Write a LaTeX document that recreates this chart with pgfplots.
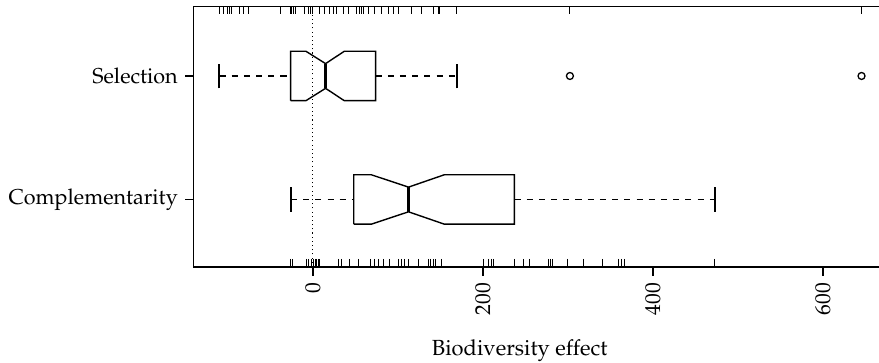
\documentclass[border=0pt,12pt]{standalone}
\usepackage[T1]{fontenc}
\usepackage{mathpazo}
\usepackage{pgfplots}
\pgfplotsset{compat=1.18}
\begin{document}
\begin{tikzpicture}
\useasboundingbox (-111.1bp,-55bp) rectangle (392.9bp,153.1bp);
\begin{axis}[
  at={(0,0)}, anchor=south west,
  scale only axis, width=397.6bp, height=149.4bp,
  xmin=-140.2, xmax=675.7, ymin=0.453, ymax=2.563,
  axis line style={line width=0.75bp},
  xtick={0,200,400,600}, ytick={1,2},
  yticklabels={Complementarity,Selection},
  xtick pos=bottom, ytick pos=left,
  tick align=outside, major tick length=5bp,
  tick style={black, line width=0.75bp},
  tick label style={font=\fontsize{12.4}{15}\selectfont},
  label style={font=\fontsize{12.6}{15}\selectfont},
  xticklabel style={rotate=90, anchor=east},
  xlabel={Biodiversity effect},
  xlabel style={at={(axis description cs:0.47,0)}, anchor=base, yshift=-51bp},
  clip=false,
]
% rugs
\addplot[only marks, mark=|, mark size=2.3bp, mark options={line width=0.5bp, black}] coordinates {
(-110,2.5305)(-105.5,2.5305)(-100.8,2.5305)(-98.4,2.5305)(-95.7,2.5305)(-85.9,2.5305)(-82,2.5305)(-75.3,2.5305)
(-38,2.5305)(-27,2.5305)(-25,2.5305)(-23,2.5305)(-20,2.5305)(-9.4,2.5305)(-5.5,2.5305)(-2.7,2.5305)(-0.4,2.5305)
(8.2,2.5305)(14.1,2.5305)(19.2,2.5305)(24,2.5305)(27.8,2.5305)(35.7,2.5305)(41.6,2.5305)(51.4,2.5305)(54.5,2.5305)
(57.3,2.5305)(59.2,2.5305)(65,2.5305)(72.9,2.5305)(80.8,2.5305)(88.6,2.5305)(94.5,2.5305)(100.4,2.5305)(116,2.5305)
(127.8,2.5305)(141.6,2.5305)(147.5,2.5305)(149.4,2.5305)(169,2.5305)(302.4,2.5305)(645.5,2.5305)};
\addplot[only marks, mark=|, mark size=2.3bp, mark options={line width=0.5bp, black}] coordinates {
(-25.9,0.4855)(-24.3,0.4855)(-7.5,0.4855)(-4.7,0.4855)(-1.6,0.4855)(0.4,0.4855)(2.4,0.4855)(4.3,0.4855)(6.3,0.4855)
(8.2,0.4855)(29.8,0.4855)(33.7,0.4855)(42.7,0.4855)(53.3,0.4855)(67.1,0.4855)(72.9,0.4855)(76.9,0.4855)(82.7,0.4855)
(90.6,0.4855)(100.4,0.4855)(104.3,0.4855)(108.2,0.4855)(112.2,0.4855)(123.9,0.4855)(135.7,0.4855)(138.4,0.4855)
(141.6,0.4855)(144.3,0.4855)(151.4,0.4855)(200.4,0.4855)(207.1,0.4855)(210.2,0.4855)(212.2,0.4855)(237.6,0.4855)
(247.5,0.4855)(255.3,0.4855)(276.9,0.4855)(279.6,0.4855)(282,0.4855)(299.6,0.4855)(318,0.4855)(340.8,0.4855)
(360,0.4855)(363.1,0.4855)(366.3,0.4855)(472.9,0.4855)};
% zero line
\addplot[black, line width=0.6bp, dash pattern=on 0.6bp off 1.8bp] coordinates {(0,0.453)(0,2.563)};
% Selection (y=2)
\addplot[black, line width=0.8bp] coordinates {(-26.3,1.8)(-8.2,1.8)(14.9,1.9)(36.9,1.8)(73.7,1.8)(73.7,2.2)(36.9,2.2)(14.9,2.1)(-8.2,2.2)(-26.3,2.2)(-26.3,1.8)};
\addplot[black, line width=2bp] coordinates {(14.9,1.9)(14.9,2.1)};
\addplot[black, line width=0.8bp, dash pattern=on 3.5bp off 3.5bp] coordinates {(-110,2)(-26.3,2)};
\addplot[black, line width=0.8bp, dash pattern=on 3.5bp off 3.5bp] coordinates {(73.7,2)(169,2)};
\addplot[black, line width=1.1bp] coordinates {(-110,1.9)(-110,2.1)};
\addplot[black, line width=1.1bp] coordinates {(169,1.9)(169,2.1)};
\addplot[only marks, mark=o, mark size=2bp, mark options={line width=0.75bp, black}] coordinates {(302.4,2)(645.5,2)};
% Complementarity (y=1)
\addplot[black, line width=0.8bp] coordinates {(48.1,0.8)(68.7,0.8)(112.5,0.9)(154.6,0.8)(237.1,0.8)(237.1,1.2)(154.6,1.2)(112.5,1.1)(68.7,1.2)(48.1,1.2)(48.1,0.8)};
\addplot[black, line width=2bp] coordinates {(112.5,0.9)(112.5,1.1)};
\addplot[black, line width=0.8bp, dash pattern=on 3.5bp off 3.5bp] coordinates {(-25.9,1)(48.1,1)};
\addplot[black, line width=0.8bp, dash pattern=on 3.5bp off 3.5bp] coordinates {(237.1,1)(473.3,1)};
\addplot[black, line width=1.1bp] coordinates {(-25.9,0.9)(-25.9,1.1)};
\addplot[black, line width=1.1bp] coordinates {(473.3,0.9)(473.3,1.1)};
\end{axis}
\end{tikzpicture}
\end{document}
